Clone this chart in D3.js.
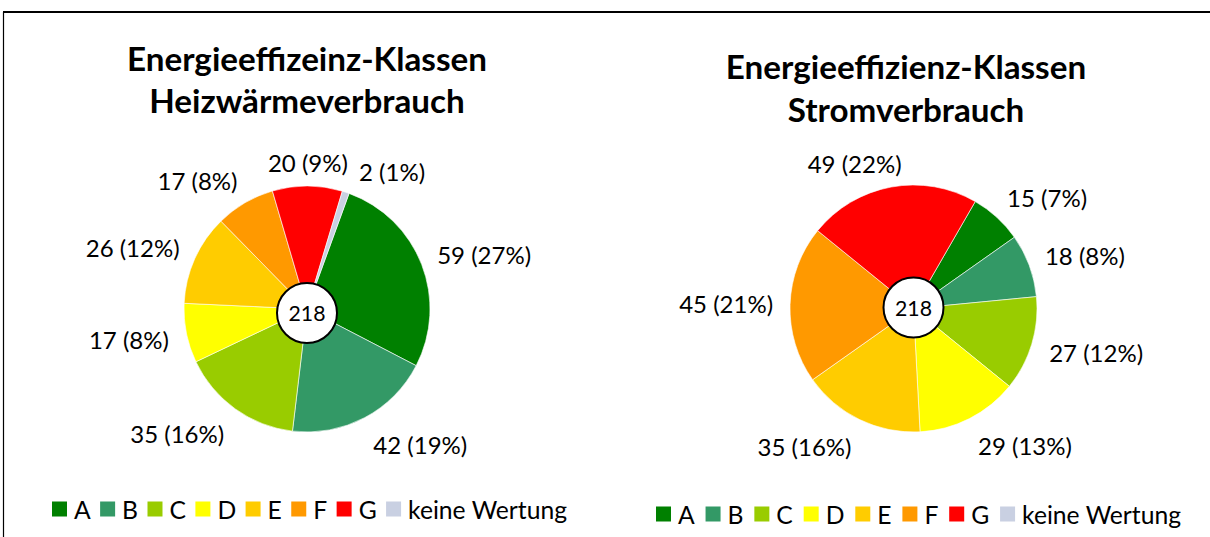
<!DOCTYPE html>
<html><head><meta charset="utf-8">
<script src="https://cdn.jsdelivr.net/npm/d3@7"></script>
<style>body{margin:0;background:#fff} svg{display:block}</style>
</head><body>
<svg id="chart" width="1210" height="537"></svg>
<script>
// ---- data ----
const categories = ["A", "B", "C", "D", "E", "F", "G", "keine Wertung"];
const colors = ["#008000", "#339966", "#99CC00", "#FFFF00", "#FFCC00", "#FF9900", "#FF0000", "#C9D0E2"];
const heizValues = [59, 42, 35, 17, 26, 17, 20, 2];
const stromValues = [15, 18, 27, 29, 35, 45, 49, 0];
const heizTitle = ["Energieeffizeinz-Klassen", "Heizwärmeverbrauch"];
const stromTitle = ["Energieeffizienz-Klassen", "Stromverbrauch"];

// ---- layout ----
const svg = d3.select("#chart");
const FONT = "Lato, 'Open Sans', sans-serif";

svg.append("line").attr("x1", 3.5).attr("x2", 3.5).attr("y1", 12).attr("y2", 537)
  .attr("stroke", "#000").attr("stroke-width", 1.2);
svg.append("line").attr("x1", 3).attr("x2", 1210).attr("y1", 12).attr("y2", 12)
  .attr("stroke", "#000").attr("stroke-width", 2.2);

function measure(text, size, weight) {
  const t = svg.append("text").attr("font-family", FONT).attr("font-weight", weight)
    .attr("font-size", size).text(text);
  const w = t.node().getComputedTextLength();
  t.remove();
  return w;
}
const fitSize = (text, target, weight) => 100 * target / measure(text, 100, weight);
const titleSize = fitSize("Energieeffizeinz-Klassen", 360, 700);
const labelSize = fitSize("59 (27%)", 94, 400);
const legendSize = fitSize("keine Wertung", 159, 400);
const centerSize = fitSize("218", 37, 400);

const charts = [
  { title: heizTitle, values: heizValues, cx: 307, cy: 309, r: 123, start: 20,
    titleX: 307, titleY: [71, 113], legendX: 52, legendEnd: 567, legendY: 509, circle: [307, 313] },
  { title: stromTitle, values: stromValues, cx: 913.5, cy: 308.5, r: 123.5, start: 30,
    titleX: 906, titleY: [79, 122], legendX: 656, legendEnd: 1181, legendY: 514, circle: [913.5, 307.5] }
];

charts.forEach(ch => {
  const g = svg.append("g");
  // title
  ch.title.forEach((line, i) => {
    g.append("text").attr("x", ch.titleX).attr("y", ch.titleY[i])
      .attr("text-anchor", "middle").attr("font-family", FONT).attr("font-weight", 700)
      .attr("font-size", titleSize).attr("fill", "#000").text(line);
  });

  const data = categories.map((c, i) => ({ c, v: ch.values[i], color: colors[i] }));
  const a0 = ch.start * Math.PI / 180;
  const pie = d3.pie().sort(null).value(d => d.v).startAngle(a0).endAngle(a0 + 2 * Math.PI);
  const arcs = pie(data).filter(a => a.data.v > 0);
  const arc = d3.arc().innerRadius(0).outerRadius(ch.r);
  const total = d3.sum(ch.values);

  const pg = g.append("g").attr("transform", `translate(${ch.cx},${ch.cy})`);
  pg.selectAll("path").data(arcs).join("path")
    .attr("d", arc).attr("fill", d => d.data.color)
    .attr("stroke", "#fff").attr("stroke-width", 0.6);

  // labels (outside end)
  const placed = [];
  arcs.forEach(a => {
    const txt = `${a.data.v} (${Math.round(a.data.v / total * 100)}%)`;
    const t = pg.append("text").attr("font-family", FONT).attr("font-size", labelSize)
      .attr("fill", "#000").attr("text-anchor", "middle").attr("dominant-baseline", "central").text(txt);
    const w = t.node().getComputedTextLength();
    const h = labelSize * 0.95;
    const box = ang => {
      const s = Math.sin(ang), c = Math.cos(ang);
      const R = ch.r + 12 + 5 * Math.abs(s) + 5 * Math.max(0, -c);
      const fx = Math.sign(s) * Math.min(1, Math.abs(s) / 0.25);
      return { x: R * s + (w / 2) * fx, y: -R * c - (h / 2) * c, w, h };
    };
    const overlaps = b => placed.some(p => Math.abs(p.x - b.x) < (p.w + b.w) / 2 + 10 && Math.abs(p.y - b.y) < (p.h + b.h) / 2);
    let ang = (a.startAngle + a.endAngle) / 2;
    let b = box(ang);
    let k = 0;
    while (overlaps(b) && k < 90) { ang += Math.PI / 360; b = box(ang); k++; }
    placed.push(b);
    t.attr("x", b.x).attr("y", b.y);
  });

  // centre circle
  g.append("circle").attr("cx", ch.circle[0]).attr("cy", ch.circle[1]).attr("r", 30)
    .attr("fill", "#fff").attr("stroke", "#000").attr("stroke-width", 2);
  g.append("text").attr("x", ch.circle[0]).attr("y", ch.circle[1])
    .attr("text-anchor", "middle").attr("dominant-baseline", "central")
    .attr("font-family", FONT).attr("font-size", centerSize).attr("fill", "#000").text(total);

  // legend, spread between legendX and legendEnd
  const widths = categories.map(c => measure(c, legendSize, 400));
  const gap = (ch.legendEnd - ch.legendX - d3.sum(widths) - 22 * categories.length) / (categories.length - 1);
  const lg = g.append("g");
  let x = ch.legendX;
  categories.forEach((c, i) => {
    lg.append("rect").attr("x", x).attr("y", ch.legendY - 7.5).attr("width", 15).attr("height", 15)
      .attr("fill", colors[i]);
    lg.append("text").attr("x", x + 22).attr("y", ch.legendY)
      .attr("dominant-baseline", "central").attr("font-family", FONT).attr("font-size", legendSize)
      .attr("fill", "#000").text(c);
    x += 22 + widths[i] + gap;
  });
});
</script>
</body></html>
